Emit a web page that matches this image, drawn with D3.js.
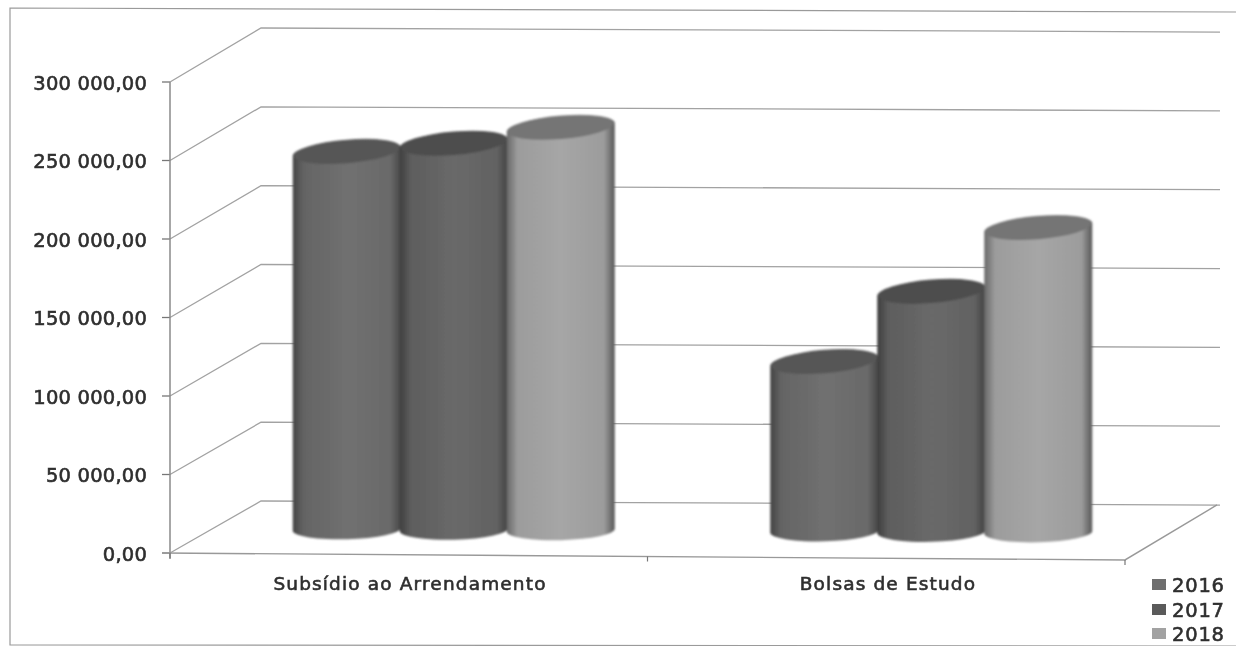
<!DOCTYPE html>
<html><head><meta charset="utf-8">
<script src="https://cdn.jsdelivr.net/npm/d3@7"></script>
<style>html,body{margin:0;background:#fff;overflow:hidden}svg{display:block}text{font-family:"DejaVu Sans",sans-serif;fill:#2e2e2e;stroke:#2e2e2e;stroke-width:0.6px}</style>
</head><body><svg id="c" width="1236" height="646"></svg>
<script>
const categories = ["Subsídio ao Arrendamento", "Bolsas de Estudo"];
const years = ["2016", "2017", "2018"];
const values2016 = [240500, 108000];
const values2017 = [246000, 153000];
const values2018 = [256500, 194000];
const tickValues = [0, 50000, 100000, 150000, 200000, 250000, 300000];
const tickLabels = ["0,00", "50 000,00", "100 000,00", "150 000,00", "200 000,00", "250 000,00", "300 000,00"];
const seriesValues = [values2016, values2017, values2018];
const bodyStops = [
  ["#434343","#646464","#707070","#6a6a6a","#484848"],
  ["#3e3e3e","#5d5d5d","#696969","#626262","#424242"],
  ["#686868","#9c9c9c","#a6a6a6","#9c9c9c","#585858"]];
const topFill = ["#565656","#4e4e4e","#757575"];
const legendFill = ["#6e6e6e","#5a5a5a","#a2a2a2"];

const svg = d3.select("#c");
const defs = svg.append("defs");
defs.append("filter").attr("id","soft").attr("x","-2%").attr("y","-2%").attr("width","104%").attr("height","104%")
  .append("feGaussianBlur").attr("stdDeviation",0.45);
defs.append("filter").attr("id","softer").attr("x","-5%").attr("y","-5%").attr("width","110%").attr("height","110%")
  .append("feGaussianBlur").attr("stdDeviation",0.9);
bodyStops.forEach((s,i)=>{
  const g = defs.append("linearGradient").attr("id","g"+i);
  const off = [0,0.1,0.5,0.9,1];
  s.forEach((c,j)=>g.append("stop").attr("offset",off[j]).attr("stop-color",c));
});
const root = svg.append("g").attr("filter","url(#soft)");

// frame
root.append("path").attr("d",`M1236,12L10,8L10,645L1236,646`).attr("fill","none").attr("stroke","#9a9a9a").attr("stroke-width",1.2);

// projection
const slope = 0.0042;
const yFront = d3.scaleLinear().domain([0,300000]).range([553,82]);
const yBack = d3.scaleLinear().domain([0,300000]).range([501,28]);
const xFront = d3.scaleLinear().domain([0,1]).range([170,1125]);
const tilt = x => (x-170)*0.0073;
const grid = "#a2a2a2";

tickValues.forEach((v,i)=>{
  const y0 = yFront(v);
  const bx = 261, by = yBack(v);
  const ex = 1220, ey = by+(ex-bx)*slope;
  root.append("path").attr("d",`M170,${y0}L${bx},${by}L${ex},${ey}`).attr("fill","none").attr("stroke",grid).attr("stroke-width",1.3);
  root.append("path").attr("d",`M162,${y0}L170,${y0}`).attr("stroke","#777").attr("stroke-width",1.3);
  root.append("text").attr("x",147).attr("y",y0+7.5).attr("text-anchor","end").attr("font-size",19.5).attr("letter-spacing",0.2).text(tickLabels[i]);
});
root.append("path").attr("d",`M170,${yFront(300000)}L170,${yFront(0)+6}`).attr("stroke","#8a8a8a").attr("stroke-width",1.5);
const fx = xFront(1), fy = 553+tilt(fx);
root.append("path").attr("d",`M162,553L${fx},${fy}L1217,${fy-55}`).attr("fill","none").attr("stroke","#999").attr("stroke-width",1.4);
[0,0.5,1].forEach(t=>{const x=xFront(t);root.append("path").attr("d",`M${x},${553+tilt(x)}v5`).attr("stroke","#777").attr("stroke-width",1.2);});

// bars
const x0 = d3.scaleBand().domain(categories).range([215,1170]);
const x1 = d3.scaleBand().domain(years).range([-160.5,160.5]);
const h = d3.scaleLinear().domain([0,300000]).range([0,471]);
const rx = 54, ryT = 12, ryB = 10;
const barLayer = svg.append("g").attr("filter","url(#softer)");
categories.forEach((cat,ci)=>{
  years.forEach((yr,si)=>{
    const v = seriesValues[si][ci];
    const cx = x0(cat)+x0.bandwidth()/2 + x1(yr)+x1.bandwidth()/2;
    const base = 528.5 + tilt(cx)*0.6;
    const top = base - h(v);
    const sT = 4.5, sB = 1.5;
    barLayer.append("path")
      .attr("d",`M${cx-rx},${top+sT}L${cx-rx},${base+sB}A${rx},${ryB} -1.5 0 0 ${cx+rx},${base-sB}L${cx+rx},${top-sT}A${rx},${ryT} -4.8 0 0 ${cx-rx},${top+sT}Z`)
      .attr("fill",`url(#g${si})`);
    barLayer.append("ellipse").attr("cx",cx).attr("cy",top).attr("rx",rx-1).attr("ry",ryT-0.5)
      .attr("transform",`rotate(-4.8 ${cx} ${top})`).attr("fill",topFill[si]);
  });
});

// category labels
const labelLayer = svg.append("g").attr("filter","url(#soft)");
const labelX = [410, 888];
categories.forEach((cat,i)=>{
  labelLayer.append("text").attr("x",labelX[i]).attr("y",590).attr("text-anchor","middle").attr("font-size",18.5).attr("letter-spacing",1.15).text(cat);
});

// legend
const legendBase = [592, 617, 641];
years.forEach((yr,i)=>{
  labelLayer.append("rect").attr("x",1152).attr("y",legendBase[i]-13).attr("width",14).attr("height",11).attr("fill",legendFill[i]);
  labelLayer.append("text").attr("x",1172).attr("y",legendBase[i]).attr("font-size",19.5).attr("letter-spacing",0.8).text(yr);
});
</script></body></html>
